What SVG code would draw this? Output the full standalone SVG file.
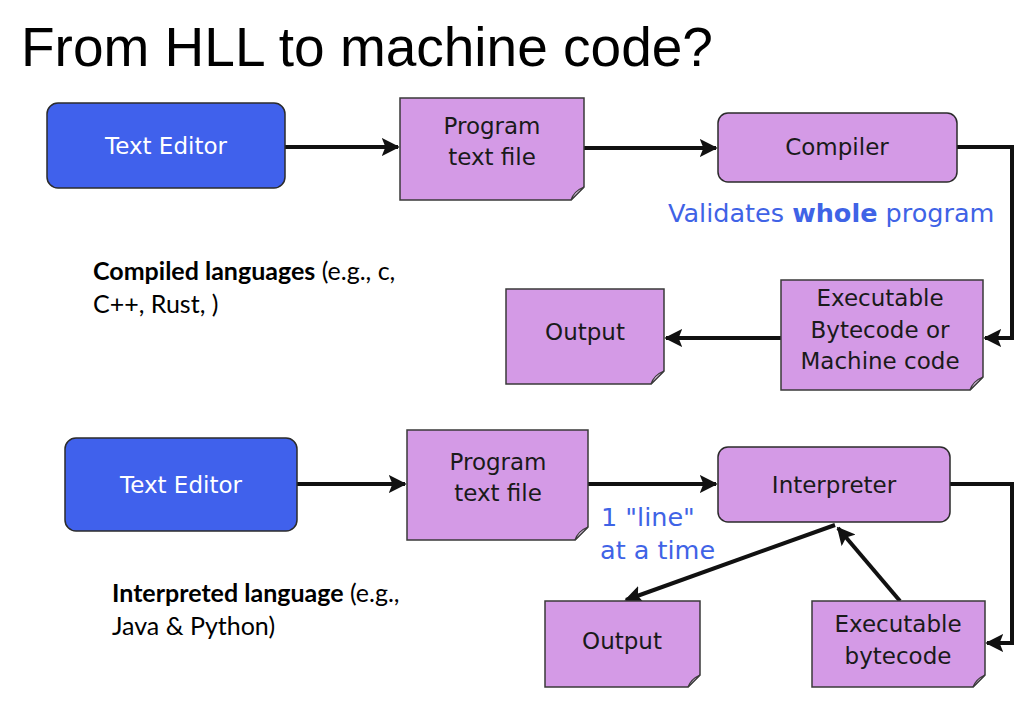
<svg xmlns="http://www.w3.org/2000/svg" width="1036" height="716" viewBox="0 0 1036 716">
  <style>
    .title { font-family: "Liberation Sans", Arial, sans-serif; font-size: 55px; fill: #000; }
    .note { font-family: Lato, "Open Sans", sans-serif; font-size: 25px; fill: #000; }
    .bold { font-weight: bold; }
    .lbl { font-family: "DejaVu Sans", "Open Sans", sans-serif; font-size: 23px; fill: #1a1a1a; text-anchor: middle; }
    .lblw { font-family: "DejaVu Sans", "Open Sans", sans-serif; font-size: 23px; fill: #ffffff; text-anchor: middle; }
    .blue { font-family: "DejaVu Sans", "Open Sans", sans-serif; font-size: 25.5px; fill: #3f63e6; }
    .editor { fill: #4061ec; stroke: #2b2b2b; stroke-width: 1.5; }
    .proc { fill: #d49ae6; stroke: #2b2b2b; stroke-width: 1.5; }
    .doc { fill: #d49ae6; stroke: #3a3a3a; stroke-width: 1.5; }
    .fold { fill: #ecd2f3; stroke: #3a3a3a; stroke-width: 1.2; }
    .conn { fill: none; stroke: #111; stroke-width: 4; }
  </style>
  <defs>
    <marker id="head" viewBox="0 0 10 10" refX="9" refY="5" markerWidth="4.5" markerHeight="4.5" markerUnits="strokeWidth" orient="auto">
      <path d="M0,0 L10,5 L0,10 L2,5 Z" fill="#111"/>
    </marker>
  </defs>

  <text class="title" x="21" y="66">From HLL to machine code?</text>

  <text class="note" x="93" y="280"><tspan class="bold">Compiled languages</tspan><tspan> (e.g., c,</tspan></text>
  <text class="note" x="93" y="313">C++, Rust, )</text>
  <text class="note" x="112" y="602"><tspan class="bold">Interpreted language</tspan><tspan> (e.g.,</tspan></text>
  <text class="note" x="112" y="635">Java &amp; Python)</text>

  <!-- connectors -->
  <g id="connectors">
    <path class="conn" d="M285,147 H398" marker-end="url(#head)"/>
    <path class="conn" d="M584,148 H716" marker-end="url(#head)"/>
    <path class="conn" d="M957,147 H1012 V338 H985" marker-end="url(#head)"/>
    <path class="conn" d="M781,338 H666" marker-end="url(#head)"/>
    <path class="conn" d="M297,484 H405" marker-end="url(#head)"/>
    <path class="conn" d="M588,484 H716" marker-end="url(#head)"/>
    <path class="conn" d="M950,484 H1012 V643 H987" marker-end="url(#head)"/>
    <path class="conn" d="M835,525 L626,600" marker-end="url(#head)"/>
    <path class="conn" d="M900,601 L838,528" marker-end="url(#head)"/>
  </g>

  <!-- compiled pipeline -->
  <g id="editor1">
    <rect class="editor" x="47" y="103" width="238" height="85" rx="11"/>
    <text class="lblw" x="166" y="154">Text Editor</text>
  </g>
  <g id="source1">
    <path class="doc" d="M400,98 H584 V187 L571,200 H400 Z"/>
    <path class="fold" d="M584,187 L571,200 Q574,191 584,187 Z"/>
    <text class="lbl" x="492" y="134">Program</text>
    <text class="lbl" x="492" y="165">text file</text>
  </g>
  <g id="compiler">
    <rect class="proc" x="718" y="113" width="239" height="69" rx="10"/>
    <text class="lbl" x="837" y="155">Compiler</text>
  </g>
  <text class="blue" x="668" y="222">Validates <tspan font-weight="bold">whole</tspan> program</text>
  <g id="binary1">
    <path class="doc" d="M781,280 H983 V377 L970,390 H781 Z"/>
    <path class="fold" d="M983,377 L970,390 Q973,381 983,377 Z"/>
    <text class="lbl" x="880" y="306">Executable</text>
    <text class="lbl" x="880" y="338">Bytecode or</text>
    <text class="lbl" x="880" y="369">Machine code</text>
  </g>
  <g id="output1">
    <path class="doc" d="M506,289 H664 V371 L651,384 H506 Z"/>
    <path class="fold" d="M664,371 L651,384 Q654,375 664,371 Z"/>
    <text class="lbl" x="585" y="340">Output</text>
  </g>

  <!-- interpreted pipeline -->
  <g id="editor2">
    <rect class="editor" x="65" y="438" width="232" height="93" rx="11"/>
    <text class="lblw" x="181" y="493">Text Editor</text>
  </g>
  <g id="source2">
    <path class="doc" d="M407,430 H588 V527 L575,540 H407 Z"/>
    <path class="fold" d="M588,527 L575,540 Q578,531 588,527 Z"/>
    <text class="lbl" x="498" y="470">Program</text>
    <text class="lbl" x="498" y="501">text file</text>
  </g>
  <g id="interpreter">
    <rect class="proc" x="718" y="447" width="232" height="75" rx="10"/>
    <text class="lbl" x="834" y="493">Interpreter</text>
  </g>
  <text class="blue" x="601" y="526">1 "line"</text>
  <text class="blue" x="600" y="559">at a time</text>
  <g id="output2">
    <path class="doc" d="M545,601 H700 V675 L688,687 H545 Z"/>
    <path class="fold" d="M700,675 L688,687 Q691,679 700,675 Z"/>
    <text class="lbl" x="622" y="649">Output</text>
  </g>
  <g id="bytecode2">
    <path class="doc" d="M812,601 H985 V675 L973,687 H812 Z"/>
    <path class="fold" d="M985,675 L973,687 Q976,679 985,675 Z"/>
    <text class="lbl" x="898" y="632">Executable</text>
    <text class="lbl" x="898" y="664">bytecode</text>
  </g>
</svg>
